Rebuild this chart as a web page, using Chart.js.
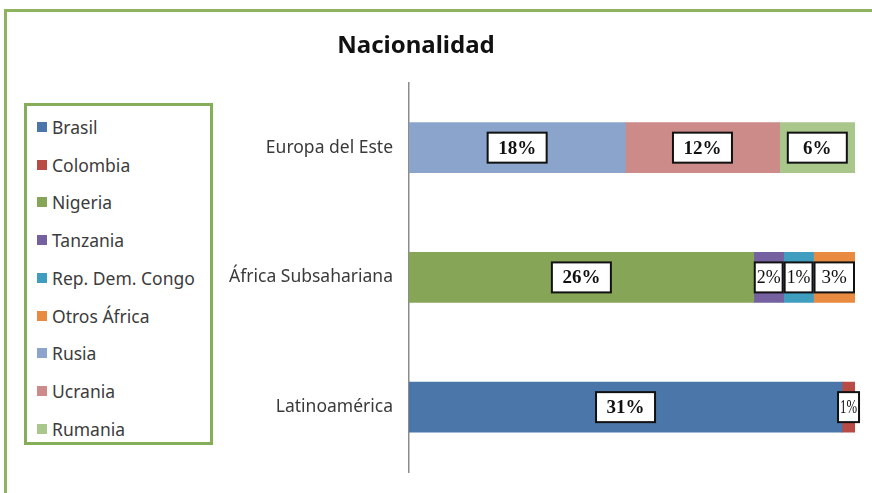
<!DOCTYPE html>
<html>
<head>
<meta charset="utf-8">
<title>Nacionalidad</title>
<script src="https://cdn.jsdelivr.net/npm/chart.js@4.4.1/dist/chart.umd.min.js"></script>
<style>
  html, body { margin: 0; padding: 0; background: #fff; }
  #wrap { position: relative; width: 872px; height: 493px; overflow: hidden; background: #fff; }
  #frame { position: absolute; left: 4px; top: 9px; width: 900px; height: 600px; border: 3px solid #8db35e; }
  #chart { position: absolute; left: 0; top: 0; }
  #legend { position: absolute; left: 24px; top: 103px; width: 189px; height: 342px;
            box-sizing: border-box; border: 3px solid #86ad57; background: #fff; }
  #legend ul { list-style: none; margin: 0; padding: 2px 0 0 10px; }
  #legend li { height: 37.75px; display: flex; align-items: center;
               font: 17.5px "Noto Sans", sans-serif; color: #3c3c3c; white-space: nowrap; }
  #legend li span { display: inline-block; width: 10px; height: 10px; margin-right: 5px; }
</style>
</head>
<body>
<div id="wrap">
  <div id="frame"></div>
  <canvas id="chart" width="872" height="493"></canvas>
  <div id="legend"></div>
</div>
<script>
// Regions on the vertical axis (top to bottom)
const regions = ['Europa del Este', 'África Subsahariana', 'Latinoamérica'];

// One series per nationality, in legend order
const countries = ['Brasil', 'Colombia', 'Nigeria', 'Tanzania', 'Rep. Dem. Congo',
                   'Otros África', 'Rusia', 'Ucrania', 'Rumania'];
const countryRegion = [2, 2, 1, 1, 1, 1, 0, 0, 0];
const countryColors = ['#4a76a9', '#b84b43', '#86a557', '#7561a0', '#3f9ec0',
                       '#e88a3f', '#8ba4cc', '#cc8a88', '#a9c68b'];

// Percent of the whole sample, as printed in the boxes
const printedPct = [31, 1, 26, 2, 1, 3, 18, 12, 6];

// Share of each region's bar (the bars are 100% stacked)
const barShare = [97.1, 2.9, 77.3, 6.7, 6.7, 9.3, 48.5, 34.6, 16.9];

const datasets = countries.map(function(name, i) {
  const data = regions.map(function(_, r) { return r === countryRegion[i] ? barShare[i] : null; });
  return {
    label: name,
    data: data,
    backgroundColor: countryColors[i],
    borderWidth: 0,
    barThickness: 50
  };
});

// White boxes with the printed percentage on each segment
const pctBoxes = {
  id: 'pctBoxes',
  afterDatasetsDraw(chart) {
    const ctx = chart.ctx;
    ctx.save();
    chart.data.datasets.forEach(function(ds, i) {
      const meta = chart.getDatasetMeta(i);
      meta.data.forEach(function(bar, j) {
        if (ds.data[j] == null) return;
        const text = printedPct[i] + '%';
        const seg = Math.abs(bar.x - bar.base);
        const w = Math.max(21, Math.min(59, seg - 2));
        const h = 30;
        const cx = (bar.x + bar.base) / 2;
        const cy = bar.y;
        ctx.fillStyle = '#fff';
        ctx.fillRect(cx - w / 2, cy - h / 2, w, h);
        ctx.lineWidth = 2;
        ctx.strokeStyle = '#111';
        ctx.strokeRect(cx - w / 2, cy - h / 2, w, h);

        ctx.fillStyle = '#111';
        ctx.textAlign = 'center';
        ctx.textBaseline = 'middle';
        // narrow boxes get the plain face, as in the original
        ctx.font = w < 50 ? '19px "Liberation Serif", serif' : 'bold 19px "Liberation Serif", serif';
        const tw = ctx.measureText(text).width;
        let sx = 1;
        if (tw > w - 4) sx = (w - 4) / tw;
        ctx.save();
        ctx.translate(cx, cy + 1);
        ctx.scale(sx, 1);
        ctx.fillText(text, 0, 0);
        ctx.restore();
      });
    });
    ctx.restore();
  }
};

// Legend built as HTML so it can sit in its own framed box
const htmlLegend = {
  id: 'htmlLegend',
  afterUpdate(chart) {
    const box = document.getElementById('legend');
    const ul = document.createElement('ul');
    chart.data.datasets.forEach(function(ds) {
      const li = document.createElement('li');
      const sw = document.createElement('span');
      sw.style.background = ds.backgroundColor;
      li.appendChild(sw);
      li.appendChild(document.createTextNode(ds.label));
      ul.appendChild(li);
    });
    box.innerHTML = '';
    box.appendChild(ul);
  }
};

Chart.defaults.font.family = '"Noto Sans", sans-serif';

new Chart(document.getElementById('chart'), {
  type: 'bar',
  data: { labels: regions, datasets: datasets },
  plugins: [pctBoxes, htmlLegend],
  options: {
    indexAxis: 'y',
    responsive: false,
    animation: false,
    devicePixelRatio: 1,
    layout: { padding: { left: -23, right: 17, top: 32, bottom: 21 } },
    plugins: {
      legend: { display: false },
      tooltip: { enabled: false },
      title: {
        display: true,
        text: 'Nacionalidad',
        color: '#111',
        font: { size: 24, weight: 'bold' },
        padding: { top: 0, bottom: 22 }
      }
    },
    scales: {
      x: {
        stacked: true,
        display: false,
        min: 0,
        max: 100
      },
      y: {
        stacked: true,
        grid: { display: false, drawTicks: false },
        border: { display: true, color: '#8c8c8c', width: 1.5 },
        ticks: { color: '#3a3a3a', font: { size: 17.5 }, padding: 16 },
        afterFit: function(scale) {
          scale.width = 432;
          // labels sit mid-band, so no extra room is needed above or below
          scale.paddingTop = 0;
          scale.paddingBottom = 0;
        }
      }
    }
  }
});
</script>
</body>
</html>
